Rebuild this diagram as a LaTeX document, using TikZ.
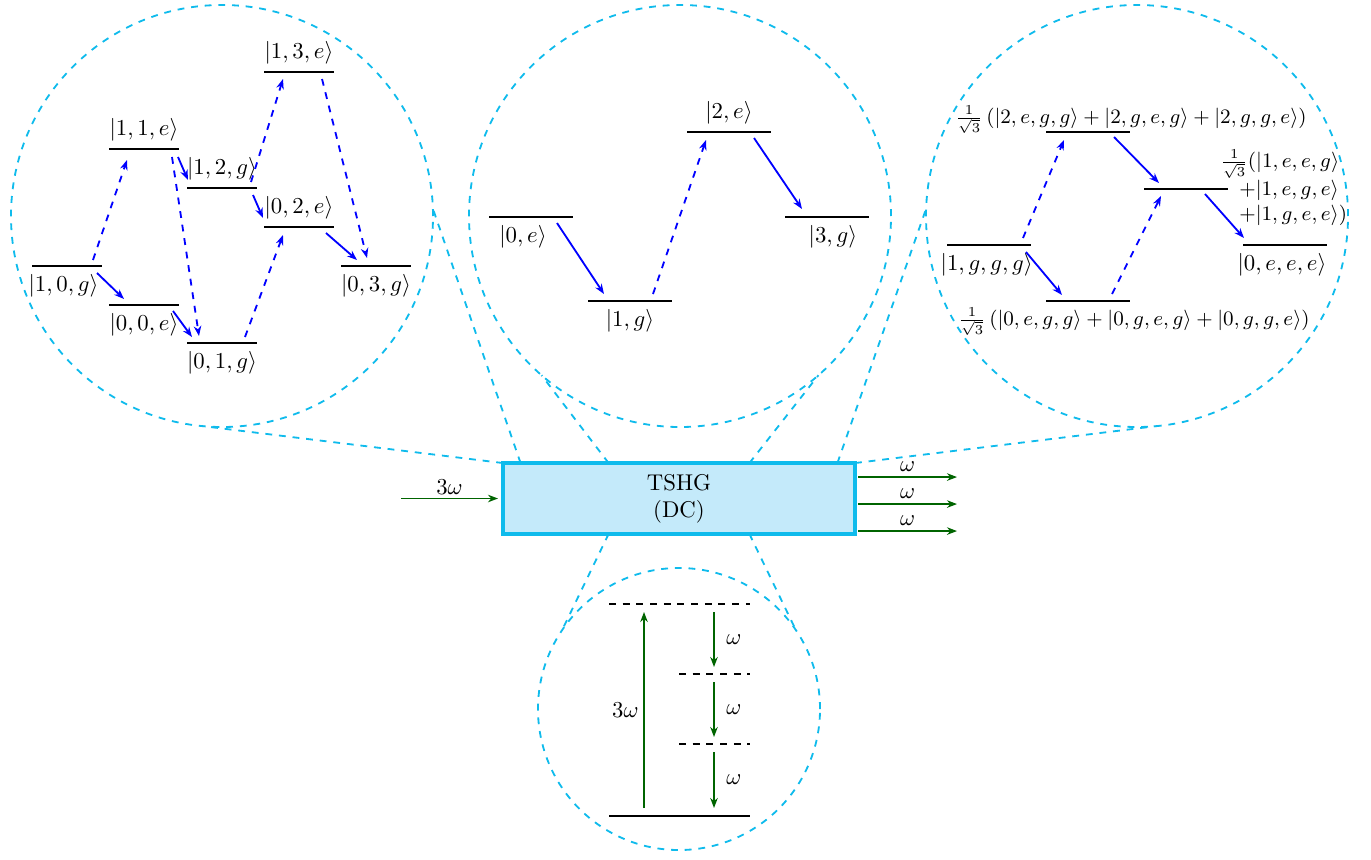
\documentclass[tikz,border=0pt]{standalone}
\usetikzlibrary{arrows.meta,calc}
\definecolor{spyc}{RGB}{15,187,236}
\definecolor{boxfill}{RGB}{196,234,250}
\definecolor{dgreen}{RGB}{0,100,0}
\begin{document}
\begin{tikzpicture}[x=0.4386pt,y=-0.4386pt,
  >={Stealth[length=4.4pt,width=3.3pt]},
  zoomc/.style={circle,draw=spyc,dashed,thick,inner sep=0pt,outer sep=0pt},
  zoomln/.style={draw=spyc,dashed,thick},
  lv/.style={inner sep=0pt,outer sep=0pt,minimum height=0pt},
  lvS/.style={lv,minimum width=30.7pt},
  lvM/.style={lv,minimum width=36.8pt},
  lvW/.style={lv,minimum width=61.8pt},
  lvN/.style={lv,minimum width=31.1pt},
  lline/.style={draw=black,thick},
  dline/.style={draw=black,thick,dashed},
  tr/.style={->,blue,thick},
  trd/.style={->,blue,thick,dashed},
  gr/.style={->,dgreen,thick},
  glab/.style={inner sep=1.5pt,text=black},
  slab/.style={font=\small},
]
\useasboundingbox (0,0) rectangle (1371,859);

% ---------- zoom circles ----------
\node[zoomc,minimum size=185.1pt] (lc) at (222,216) {};
\node[zoomc,minimum size=185.1pt] (mc) at (680,216) {};
\node[zoomc,minimum size=185.1pt] (rc) at (1137,216) {};
\node[zoomc,minimum size=123.7pt] (bc) at (679,709) {};

% ---------- central box ----------
\node[draw=spyc,line width=1.4pt,fill=boxfill,minimum width=154.4pt,minimum height=31.1pt,
      align=center,inner sep=0pt,outer sep=0pt] (box) at (679,498.5) {TSHG\\(DC)};

% ---------- zoom connectors ----------
\draw[zoomln] (box.north west) -- (lc.-95);
\draw[zoomln] ($(box.north west)!0.05!(box.north east)$) -- (lc.2);
\draw[zoomln] ($(box.north west)!0.3!(box.north east)$) -- (mc.229);
\draw[zoomln] ($(box.north west)!0.7!(box.north east)$) -- (mc.-49);
\draw[zoomln] (box.north east) -- (rc.-85);
\draw[zoomln] ($(box.north west)!0.95!(box.north east)$) -- (rc.178);
\draw[zoomln] ($(box.south west)!0.3!(box.south east)$) -- (bc.146);
\draw[zoomln] ($(box.south west)!0.7!(box.south east)$) -- (bc.34);

% ---------- input / output beams ----------
\coordinate (inS) at (401,498.5);
\draw[gr] (inS) -- node[above,glab] (lin) {$3\omega$} ($(box.west)+(-5,0)$);
\coordinate (o1) at ($(box.north east)+(3,14)$);
\coordinate (o2) at ($(box.north east)+(3,41)$);
\coordinate (o3) at ($(box.north east)+(3,68)$);
\draw[gr] (o1) -- node[above,glab,inner sep=2.2pt] (lo1) {$\omega$} ++(99,0);
\draw[gr] (o2) -- node[above,glab,inner sep=2.2pt] (lo2) {$\omega$} ++(99,0);
\draw[gr] (o3) -- node[above,glab,inner sep=2.2pt] (lo3) {$\omega$} ++(99,0);

% ---------- left circle levels ----------
\node[lvS] (L10g) at (67,266) {};
\node[lvS] (L00e) at (144,305) {};
\node[lvS] (L11e) at (144,149) {};
\node[lvS] (L12g) at (222,188) {};
\node[lvS] (L01g) at (222,343) {};
\node[lvS] (L13e) at (299,72) {};
\node[lvS] (L02e) at (299,227) {};
\node[lvS] (L03g) at (376,266) {};
\foreach \n in {L10g,L00e,L11e,L12g,L01g,L13e,L02e,L03g}
  \draw[lline] (\n.west) -- (\n.east);
\node[below,xshift=-1.5pt] (tL10g) at (L10g) {$|1,0,g\rangle$};
\node[below] (tL00e) at (L00e) {$|0,0,e\rangle$};
\node[above] (tL11e) at (L11e) {$|1,1,e\rangle$};
\node[above] (tL12g) at (L12g) {$|1,2,g\rangle$};
\node[below] (tL01g) at (L01g) {$|0,1,g\rangle$};
\node[above] (tL13e) at (L13e) {$|1,3,e\rangle$};
\node[above] (tL02e) at (L02e) {$|0,2,e\rangle$};
\node[below] (tL03g) at (L03g) {$|0,3,g\rangle$};

\draw[trd] ($(L10g)+(26,-6)$) -- ($(L11e)+(-17,11)$);
\draw[tr]  ($(L10g)+(30,7)$)  -- ($(L00e)+(-20,-6)$);
\draw[trd] ($(L11e)+(28,8)$)  -- ($(L01g)+(-23,-7)$);
\draw[tr]  ($(L11e)+(34,8)$)  -- ($(L12g)+(-34,-8)$);
\draw[tr]  ($(L00e)+(29,6)$)  -- ($(L01g)+(-30,-6)$);
\draw[trd] ($(L01g)+(23,-6)$) -- ($(L02e)+(-16,8)$);
\draw[trd] ($(L12g)+(29,-6)$) -- ($(L13e)+(-16,7)$);
\draw[tr]  ($(L12g)+(31,7)$)  -- ($(L02e)+(-36,-9)$);
\draw[trd] ($(L13e)+(23,7)$)  -- ($(L03g)+(-9,-8)$);
\draw[tr]  ($(L02e)+(27,6)$)  -- ($(L03g)+(-19,-6)$);

% ---------- middle circle levels ----------
\node[lvM] (M0e) at (531,217) {};
\node[lvM] (M1g) at (630,301) {};
\node[lvM] (M2e) at (729,132) {};
\node[lvM] (M3g) at (827,217) {};
\foreach \n in {M0e,M1g,M2e,M3g}
  \draw[lline] (\n.west) -- (\n.east);
\node[below,xshift=-3.5pt] (tM0e) at (M0e) {$|0,e\rangle$};
\node[below] (tM1g) at (M1g) {$|1,g\rangle$};
\node[above] (tM2e) at (M2e) {$|2,e\rangle$};
\node[below,xshift=2.6pt] (tM3g) at (M3g) {$|3,g\rangle$};
\draw[tr]  ($(M0e)+(26,6)$)  -- ($(M1g)+(-26,-7)$);
\draw[trd] ($(M1g)+(23,-7)$) -- ($(M2e)+(-23,8)$);
\draw[tr]  ($(M2e)+(25,6)$)  -- ($(M3g)+(-25,-8)$);

% ---------- right circle levels ----------
\node[lvM] (R1) at (989,245) {};
\node[lvM] (R0) at (1088,301) {};
\node[lvM] (R2) at (1088,132) {};
\node[lvM] (Rm) at (1186,189) {};
\node[lvM] (Re) at (1285,245) {};
\foreach \n in {R1,R0,R2,Rm,Re}
  \draw[lline] (\n.west) -- (\n.east);
\node[below,xshift=-1pt] (tR1) at (R1) {$|1,g,g,g\rangle$};
\node[slab] (tR0) at ($(R0)+(46,21)$) {$\frac{1}{\sqrt{3}}\left(|0,e,g,g\rangle+|0,g,e,g\rangle+|0,g,g,e\rangle\right)$};
\node[slab] (tR2) at ($(R2)+(43,-12)$) {$\frac{1}{\sqrt{3}}\left(|2,e,g,g\rangle+|2,g,e,g\rangle+|2,g,g,e\rangle\right)$};
\node[slab,anchor=west,align=left,inner sep=0pt] (tRm) at ($(Rm)+(34,-1)$)
  {$\frac{1}{\sqrt{3}}(|1,e,e,g\rangle$\\\hspace*{8.3pt}$+|1,e,g,e\rangle$\\\hspace*{8.3pt}$+|1,g,e,e\rangle)$};
\node[below,xshift=-1.3pt] (tRe) at (Re) {$|0,e,e,e\rangle$};
\draw[trd] ($(R1)+(34,-7)$) -- ($(R2)+(-24,8)$);
\draw[tr]  ($(R1)+(37,7)$)  -- ($(R0)+(-26,-6)$);
\draw[tr]  ($(R2)+(26,5)$)  -- ($(Rm)+(-27,-6)$);
\draw[trd] ($(R0)+(24,-7)$) -- ($(Rm)+(-25,7)$);
\draw[tr]  ($(Rm)+(19,5)$)  -- ($(Re)+(-41,-7)$);

% ---------- bottom circle: energy ladder ----------
\node[lvW] (B3) at (679.5,604) {};
\node[lvN] (B2) at (714.5,674) {};
\node[lvN] (B1) at (714.5,744) {};
\node[lvW] (B0) at (679.5,816) {};
\draw[dline] (B3.west) -- (B3.east);
\draw[dline] (B2.west) -- (B2.east);
\draw[dline] (B1.west) -- (B1.east);
\draw[lline] (B0.west) -- (B0.east);
\draw[gr] ($(B0)+(-35.5,-8)$) -- node[left,glab,inner sep=2pt] (l3w) {$3\omega$} ($(B3)+(-35.5,8)$);
\draw[gr] ($(B3)+(34.5,8)$) -- node[right,glab,inner sep=5pt] (lw1) {$\omega$} ($(B2)+(-0.5,-7)$);
\draw[gr] ($(B2)+(-0.5,8)$) -- node[right,glab,inner sep=5pt] (lw2) {$\omega$} ($(B1)+(-0.5,-7)$);
\draw[gr] ($(B1)+(-0.5,8)$) -- node[right,glab,inner sep=5pt] (lw3) {$\omega$} ($(B0)+(34.5,-8)$);
\end{tikzpicture}
\end{document}
